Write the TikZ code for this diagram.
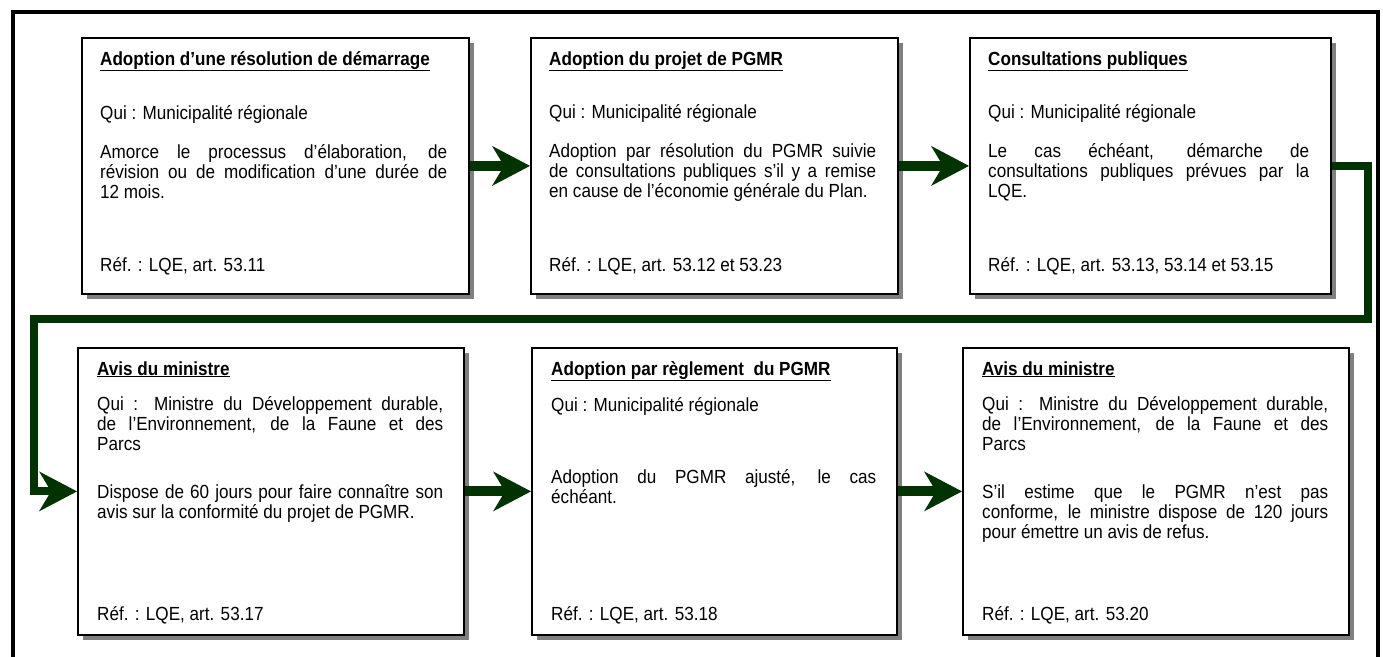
\documentclass[tikz,border=0pt]{standalone}
\usepackage{fontspec}
\setmainfont[FakeStretch=0.9]{Liberation Sans}
\usetikzlibrary{arrows.meta,shadows}
\definecolor{vertfonce}{RGB}{0,51,0}
\definecolor{ombre}{RGB}{128,128,128}
\newcommand{\titre}[1]{\underline{\textbf{#1}}}

\begin{document}
\begin{tikzpicture}[x=1pt, y=-1pt, line join=miter,
  etape/.style={draw=black, line width=1.8pt, fill=white, anchor=north west, inner sep=0pt,
    drop shadow={shadow xshift=5pt, shadow yshift=-5pt, fill=ombre, opacity=1}},
  texte/.style={anchor=base west, inner sep=0pt, align=justify, font=\fontsize{19}{20}\selectfont},
  fleche/.style={vertfonce, line width=10pt, -{Stealth[length=38pt, width=40pt, inset=12pt, line width=0pt]}}]

\useasboundingbox (0,0) rectangle (1383,656);

% cadre general (le bas sort de la page)
\draw[line width=4pt] (12.5,11.5) rectangle (1377.5,680);

% ------------------------------------------------------------------
% etapes, rangee du haut
% ------------------------------------------------------------------
\node[etape, minimum width=387pt, minimum height=256pt] (b1) at (81,37) {};
\node[etape, minimum width=367pt, minimum height=256pt] (b2) at (530,37) {};
\node[etape, minimum width=361pt, minimum height=256pt] (b3) at (969,37) {};

\node[texte, text width=347pt] (t1) at (100,65) {\titre{Adoption d’une résolution de démarrage}\par\vspace{33pt}
  Qui : Municipalité régionale\par\vspace{19pt}
  Amorce le processus d’élaboration, de\linebreak révision ou de modification d’une durée de\linebreak 12 mois.};
\node[texte] (r1) at (100,271) {Réf. : LQE, art. 53.11};

\node[texte, text width=327pt] (t2) at (549,65) {\titre{Adoption du projet de PGMR}\par\vspace{33pt}
  Qui : Municipalité régionale\par\vspace{19pt}
  Adoption par résolution du PGMR suivie\linebreak de consultations publiques s’il y a remise\linebreak en cause de l’économie générale du Plan.};
\node[texte] (r2) at (549,271) {Réf. : LQE, art. 53.12 et 53.23};

\node[texte, text width=321pt] (t3) at (988,65) {\titre{Consultations publiques}\par\vspace{33pt}
  Qui : Municipalité régionale\par\vspace{19pt}
  Le cas échéant, démarche de\linebreak consultations publiques prévues par la\linebreak LQE.};
\node[texte] (r3) at (988,271) {Réf. : LQE, art. 53.13, 53.14 et 53.15};

% ------------------------------------------------------------------
% etapes, rangee du bas
% ------------------------------------------------------------------
\node[etape, minimum width=386pt, minimum height=287pt] (b4) at (77,347) {};
\node[etape, minimum width=365pt, minimum height=287pt] (b5) at (531,347) {};
\node[etape, minimum width=386pt, minimum height=287pt] (b6) at (962,347) {};

\node[texte, text width=346pt] (t4) at (97,375) {\titre{Avis du ministre}\par\vspace{15pt}
  Qui : Ministre du Développement durable,\linebreak de l’Environnement, de la Faune et des\linebreak Parcs\par\vspace{28pt}
  Dispose de 60 jours pour faire connaître son\linebreak avis sur la conformité du projet de PGMR.};
\node[texte] (r4) at (97,620) {Réf. : LQE, art. 53.17};

\node[texte, text width=325pt] (t5) at (551,375) {\titre{Adoption par règlement~ du PGMR}\par\vspace{15pt}
  Qui : Municipalité régionale\par\vspace{52pt}
  Adoption du PGMR ajusté, le cas\linebreak échéant.};
\node[texte] (r5) at (551,620) {Réf. : LQE, art. 53.18};

\node[texte, text width=346pt] (t6) at (982,375) {\titre{Avis du ministre}\par\vspace{15pt}
  Qui : Ministre du Développement durable,\linebreak de l’Environnement, de la Faune et des\linebreak Parcs\par\vspace{28pt}
  S’il estime que le PGMR n’est pas\linebreak conforme, le ministre dispose de 120 jours\linebreak pour émettre un avis de refus.};
\node[texte] (r6) at (982,620) {Réf. : LQE, art. 53.20};

% ------------------------------------------------------------------
% fleches
% ------------------------------------------------------------------
\coordinate (coinD) at (1368,319);
\coordinate (coinG) at (34,319);

\draw[fleche] (b1.east) -- (b2.west);
\draw[fleche] (b2.east) -- (b3.west);
\draw[fleche, line width=8pt] (b3.east) -| (coinD) -- (coinG) |- (b4.west);
\draw[fleche] (b4.east) -- (b5.west);
\draw[fleche] (b5.east) -- (b6.west);

\end{tikzpicture}
\end{document}
